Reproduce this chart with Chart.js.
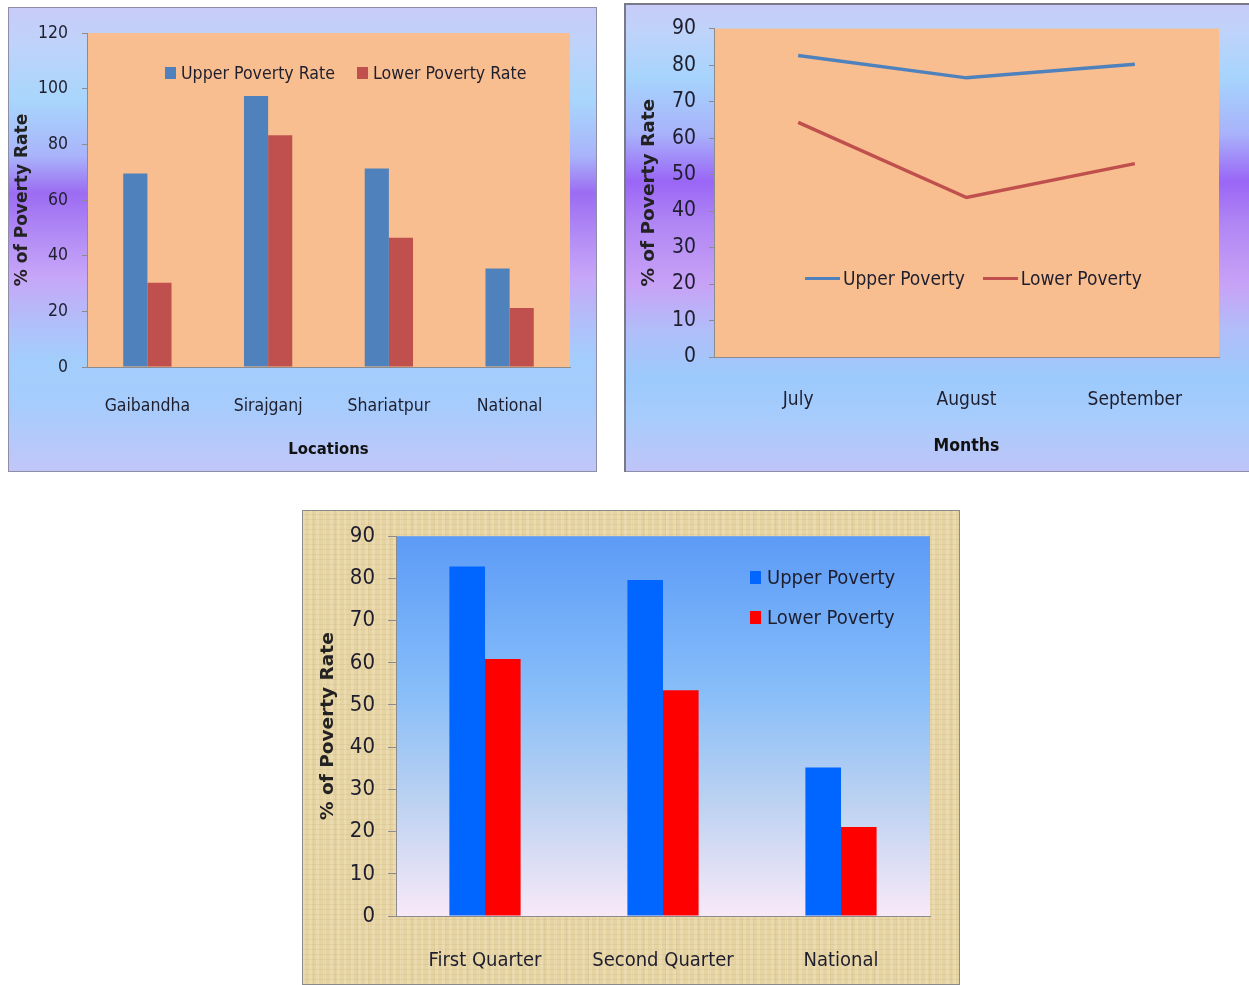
<!DOCTYPE html>
<html lang="en">
<head>
<meta charset="UTF-8">
<title>Poverty Rate Charts</title>
<script src="https://cdn.jsdelivr.net/npm/chart.js"></script>
<style>
    body {
        margin: 0;
        background: #fff;
        width: 1249px;
        height: 985px;
        position: relative;
        overflow: hidden;
    }
    .panel { position: absolute; }
    .panel canvas { position: absolute; left: 0; top: 0; }
    #p1 {
        left: 8px; top: 7px; width: 589px; height: 465px;
        background: linear-gradient(180deg, #c8cbf8 0%, #bfd3fa 8%, #a8d6fc 20%, #a9b4fa 32%, #9c6cf2 40%, #b48ef5 50%, #c7a6f8 58%, #b3bdf9 67%, #a3cefc 76%, #a6ccfc 86%, #c2c6f8 100%);
        box-shadow: inset 0 0 0 1px #8e8ea8;
    }
    #p2 {
        left: 624px; top: 3px; width: 625px; height: 469px;
        background: linear-gradient(180deg, #c8cbf8 0%, #bfd3fa 6%, #a6d4fc 16%, #a8b2fa 28%, #9a66f6 38%, #b086f4 47%, #c8a2f6 60%, #b0bef9 70%, #9ccafc 80%, #a6ccfc 88%, #c0c4f8 100%);
        box-shadow: inset 2px 2px 0 0 #7a7a86, inset 0 -1px 0 0 #8e8ea8;
    }
    #p3 {
        left: 302px; top: 510px; width: 658px; height: 475px;
        background:
            repeating-linear-gradient(0deg, rgba(150, 115, 55, 0.09) 0 1px, transparent 1px 5px),
            repeating-linear-gradient(90deg, rgba(255, 250, 230, 0.20) 0 3px, transparent 3px 7px),
            repeating-linear-gradient(90deg, rgba(150, 115, 55, 0.07) 0 1px, transparent 1px 11px),
            #e6d3a2;
        box-shadow: inset 0 0 0 1px #8a8a8a;
    }
    .legend {
        position: absolute;
        font-family: "Liberation Sans Narrow", "DejaVu Sans Condensed", Arial, sans-serif;
        color: #1e1e2e;
        display: flex;
        align-items: center;
        white-space: nowrap;
    }
    .legend .item { display: flex; align-items: center; }
    .legend .swatch { display: inline-block; }
</style>
</head>
<body>
    <div class="panel" id="p1"><canvas id="locationChart" width="589" height="465"></canvas></div>
    <div class="panel" id="p2"><canvas id="monthChart" width="625" height="469"></canvas></div>
    <div class="panel" id="p3"><canvas id="quarterChart" width="658" height="475"></canvas></div>

    <div class="legend" id="legend1" style="left:165px; top:63px; gap:22px; font-size:17.6px;"></div>
    <div class="legend" id="legend2" style="left:805px; top:267px; gap:18px; font-size:19px;"></div>
    <div class="legend" id="legend3" style="left:750px; top:565px; flex-direction:column; align-items:flex-start; gap:16px; font-size:20px;"></div>

<script>
    // chart 1: by location
    const locations = ['Gaibandha', 'Sirajganj', 'Shariatpur', 'National'];
    const upperByLocation = [69.5, 97.4, 71.3, 35.4];
    const lowerByLocation = [30.3, 83.3, 46.4, 21.2];

    // chart 2: by month
    const months = ['July', 'August', 'September'];
    const upperByMonth = [82.6, 76.5, 80.2];
    const lowerByMonth = [64.3, 43.7, 53.0];

    // chart 3: by quarter
    const quarters = ['First Quarter', 'Second Quarter', 'National'];
    const upperByQuarter = [82.8, 79.6, 35.2];
    const lowerByQuarter = [60.9, 53.5, 21.1];

    const NARROW = '"Liberation Sans Narrow", "DejaVu Sans Condensed", Arial, sans-serif';
    const BOLDSANS = '"DejaVu Sans", Verdana, sans-serif';
    const TEXT = '#1e1e2e';
    const AXIS = '#8c8c8c';

    // fills the plot area (solid colour or vertical gradient)
    const plotBg = {
        id: 'plotBg',
        beforeDraw(chart, args, opts) {
            const { ctx, chartArea: a } = chart;
            let fill = opts.color;
            if (opts.stops) {
                fill = ctx.createLinearGradient(0, a.top, 0, a.bottom);
                opts.stops.forEach(s => fill.addColorStop(s[0], s[1]));
            }
            ctx.save();
            ctx.fillStyle = fill;
            ctx.fillRect(a.left, a.top, a.right - a.left, a.bottom - a.top);
            ctx.restore();
        }
    };

    function yAxis(max, step, width, tickLen, pad, size, titleSize, titlePad) {
        return {
            min: 0, max: max,
            ticks: { stepSize: step, padding: pad, color: TEXT, font: { family: NARROW, size: size } },
            grid: { drawOnChartArea: false, tickLength: tickLen, tickColor: AXIS },
            border: { color: AXIS },
            title: {
                display: true, text: '% of Poverty Rate', color: '#222',
                font: { family: BOLDSANS, size: titleSize, weight: 'bold' },
                padding: { top: titlePad, bottom: 0 }
            },
            afterFit(s) { s.width = width; }
        };
    }

    function xAxis(height, pad, size, title, titleSize, titlePad) {
        return {
            grid: { display: false, drawTicks: false },
            border: { display: true, color: AXIS },
            ticks: { color: TEXT, padding: pad, font: { family: NARROW, size: size } },
            title: title ? {
                display: true, text: title, color: '#111',
                font: { family: NARROW, size: titleSize, weight: 'bold' },
                padding: { top: 0, bottom: titlePad }
            } : { display: false },
            afterFit(s) { s.height = height; }
        };
    }

    function buildLegend(chart, id, kind) {
        const box = document.getElementById(id);
        chart.data.datasets.forEach(ds => {
            const item = document.createElement('span');
            item.className = 'item';
            const sw = document.createElement('span');
            sw.className = 'swatch';
            if (kind === 'line') {
                sw.style.cssText = 'width:35px;height:3px;margin-right:3px;background:' + ds.borderColor;
            } else if (kind === 'box') {
                sw.style.cssText = 'width:11px;height:12px;margin-right:5px;background:' + ds.backgroundColor;
            } else {
                sw.style.cssText = 'width:11px;height:13px;margin-right:6px;background:' + ds.backgroundColor;
            }
            item.appendChild(sw);
            item.appendChild(document.createTextNode(ds.label));
            box.appendChild(item);
        });
    }

    const common = {
        responsive: false,
        animation: false,
        plugins: { legend: { display: false }, tooltip: { enabled: false } }
    };

    const chart1 = new Chart(document.getElementById('locationChart'), {
        type: 'bar',
        data: {
            labels: locations,
            datasets: [
                { label: 'Upper Poverty Rate', data: upperByLocation, backgroundColor: '#4f81bd' },
                { label: 'Lower Poverty Rate', data: lowerByLocation, backgroundColor: '#c0504d' }
            ]
        },
        options: {
            ...common,
            layout: { padding: { top: 26, right: 27, left: 0, bottom: 0 } },
            datasets: { bar: { categoryPercentage: 0.4, barPercentage: 1 } },
            plugins: { ...common.plugins, plotBg: { color: '#f9be8f' } },
            scales: {
                x: xAxis(105, 29, 17.5, 'Locations', 16.5, 12),
                y: yAxis(120, 20, 79, 5, 14, 17.5, 17, 4)
            }
        },
        plugins: [plotBg]
    });
    buildLegend(chart1, 'legend1', 'box');

    const chart2 = new Chart(document.getElementById('monthChart'), {
        type: 'line',
        data: {
            labels: months,
            datasets: [
                { label: 'Upper Poverty', data: upperByMonth, borderColor: '#4f81bd', borderWidth: 3.5, pointRadius: 0 },
                { label: 'Lower Poverty', data: lowerByMonth, borderColor: '#c0504d', borderWidth: 3.5, pointRadius: 0 }
            ]
        },
        options: {
            ...common,
            layout: { padding: { top: 25, right: 30, left: 0, bottom: 0 } },
            plugins: { ...common.plugins, plotBg: { color: '#f9be8f' } },
            scales: {
                x: { ...xAxis(115, 32, 19, 'Months', 17.5, 15), offset: true },
                y: yAxis(90, 10, 90, 5, 13, 21, 18.5, 14)
            }
        },
        plugins: [plotBg]
    });
    buildLegend(chart2, 'legend2', 'line');

    const chart3 = new Chart(document.getElementById('quarterChart'), {
        type: 'bar',
        data: {
            labels: quarters,
            datasets: [
                { label: 'Upper Poverty', data: upperByQuarter, backgroundColor: '#0066ff' },
                { label: 'Lower Poverty', data: lowerByQuarter, backgroundColor: '#ff0000' }
            ]
        },
        options: {
            ...common,
            layout: { padding: { top: 25, right: 30, left: 0, bottom: 0 } },
            datasets: { bar: { categoryPercentage: 0.4, barPercentage: 1 } },
            plugins: {
                ...common.plugins,
                plotBg: { stops: [[0, '#5c9bf7'], [0.4, '#86bdf9'], [0.7, '#bcd2f1'], [1, '#f8e9f8']] }
            },
            scales: {
                x: xAxis(69, 33, 20, null),
                y: yAxis(90, 10, 94, 8, 13, 22, 18.5, 15)
            }
        },
        plugins: [plotBg]
    });
    buildLegend(chart3, 'legend3', 'square');
</script>
</body>
</html>
